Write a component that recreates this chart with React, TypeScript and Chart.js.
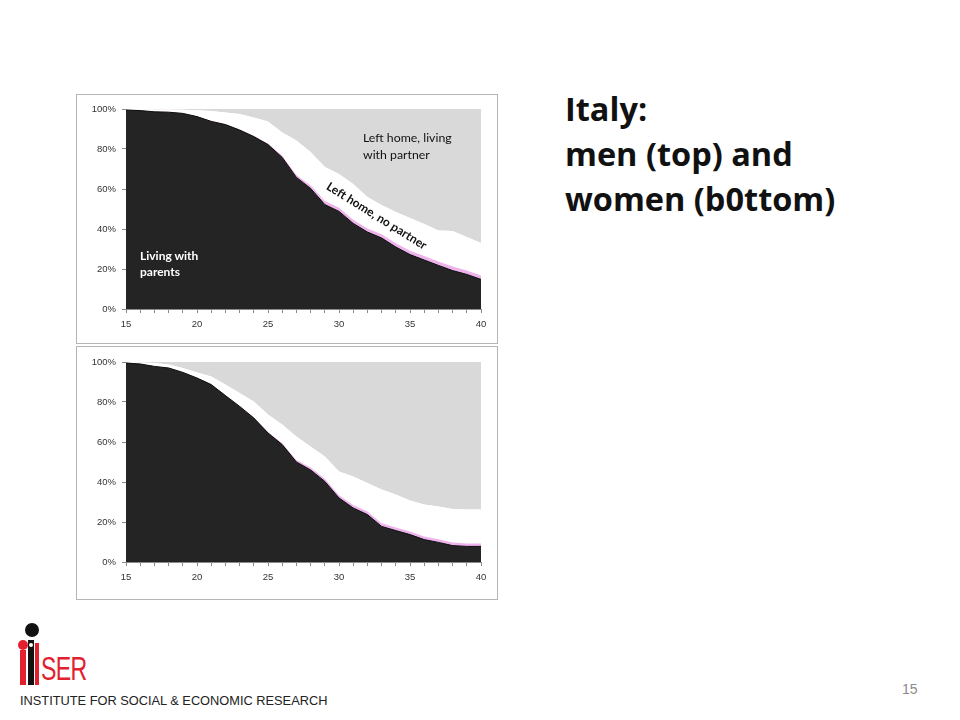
import React, { useEffect, useRef } from "react";
import { Chart, registerables } from "chart.js";

Chart.register(...registerables);

// Age (years)
const AGES = [15, 16, 17, 18, 19, 20, 21, 22, 23, 24, 25, 26, 27, 28, 29, 30, 31, 32, 33, 34, 35, 36, 37, 38, 39, 40];
const X_TICK_LABELS = ["15", "20", "25", "30", "35", "40"];
const Y_TICK_LABELS = ["0%", "20%", "40%", "60%", "80%", "100%"];

// Men (top) – shares in %, stacked
const MEN_PARENTS = [99.5, 99.2, 98.6, 98.4, 97.8, 96.2, 93.8, 92.2, 89.5, 86.2, 82.2, 75.8, 65.8, 60.3, 52.2, 48.8, 42.8, 38.5, 35.5, 31.0, 27.2, 24.5, 21.8, 19.2, 17.3, 14.8];
const MEN_OTHER = [0.2, 0.2, 0.2, 0.2, 0.2, 0.2, 0.3, 0.3, 0.3, 0.4, 0.5, 0.8, 1.2, 1.5, 1.8, 1.8, 1.8, 1.8, 1.9, 1.9, 1.9, 2.0, 2.0, 2.0, 2.0, 2.0];
const MEN_NO_PARTNER = [0.3, 0.5, 1.0, 1.1, 1.6, 3.0, 4.9, 5.8, 7.7, 9.2, 11.1, 11.7, 17.2, 16.7, 17.0, 16.9, 17.9, 15.7, 14.6, 15.6, 16.4, 16.0, 15.4, 17.8, 16.7, 16.2];
const MEN_PARTNER = [0.0, 0.1, 0.2, 0.3, 0.4, 0.6, 1.0, 1.7, 2.5, 4.2, 6.2, 11.7, 15.8, 21.5, 29.0, 32.5, 37.5, 44.0, 48.0, 51.5, 54.5, 57.5, 60.8, 61.0, 64.0, 67.0];

// Women (bottom) – shares in %, stacked
const WOMEN_PARENTS = [99.5, 99.0, 97.8, 97.0, 94.8, 92.0, 88.7, 83.2, 77.8, 72.0, 64.5, 58.7, 50.0, 46.0, 40.3, 32.0, 27.0, 23.7, 17.8, 15.7, 13.7, 11.2, 9.8, 8.2, 7.8, 7.8];
const WOMEN_OTHER = [0.2, 0.2, 0.2, 0.2, 0.2, 0.3, 0.3, 0.3, 0.3, 0.4, 0.5, 0.7, 1.0, 1.2, 1.3, 1.4, 1.5, 1.5, 1.6, 1.6, 1.6, 1.6, 1.6, 1.5, 1.5, 1.5];
const WOMEN_NO_PARTNER = [0.3, 0.6, 1.5, 1.5, 2.0, 2.5, 3.8, 5.2, 6.4, 7.9, 8.7, 9.3, 11.8, 10.6, 11.2, 11.9, 14.3, 14.3, 16.8, 16.4, 15.5, 15.9, 16.4, 16.8, 17.0, 17.0];
const WOMEN_PARTNER = [0.0, 0.2, 0.5, 1.3, 3.0, 5.2, 7.2, 11.3, 15.5, 19.7, 26.3, 31.3, 37.2, 42.2, 47.2, 54.7, 57.2, 60.5, 63.8, 66.3, 69.2, 71.3, 72.2, 73.5, 73.7, 73.7];

const SERIES_NAMES = ["Living with parents", "Left home, other", "Left home, no partner", "Left home, living with partner"];
const SERIES_COLORS = ["#242424", "#eeb3ec", "#ffffff", "#d9d9d9"];

const AXIS_COLOR = "#8a8a8a";
const TICK_FONT = { family: "'Liberation Sans', Arial, sans-serif", size: 9.5 };

function buildConfig(series: number[][], xAxisHeight: number, topPad: number): any {
  return {
    type: "line",
    data: {
      datasets: series.map((arr, i) => ({
        label: SERIES_NAMES[i],
        data: AGES.map((a, j) => ({ x: a, y: arr[j] })),
        fill: i === 0 ? "origin" : "-1",
        backgroundColor: SERIES_COLORS[i],
        borderColor: i === 0 ? "#0c0c0c" : "rgba(0,0,0,0)",
        borderWidth: i === 0 ? 1 : 0,
        pointRadius: 0,
        tension: 0,
      })),
    },
    options: {
      responsive: false,
      animation: false,
      events: [],
      layout: { padding: { left: 0, right: 16, top: topPad, bottom: 0 } },
      plugins: { legend: { display: false }, tooltip: { enabled: false }, title: { display: false } },
      scales: {
        x: {
          type: "linear",
          min: 15,
          max: 40,
          afterFit: (s: any) => { s.height = xAxisHeight; },
          ticks: {
            stepSize: 1,
            autoSkip: false,
            maxRotation: 0,
            padding: 6,
            color: "#333",
            font: TICK_FONT,
            callback: (v: number) => (X_TICK_LABELS.includes(String(v)) ? String(v) : ""),
          },
          grid: { drawOnChartArea: false, drawTicks: true, tickLength: 4, color: AXIS_COLOR },
          border: { color: AXIS_COLOR, width: 1 },
        },
        y: {
          stacked: true,
          min: 0,
          max: 100,
          afterFit: (s: any) => { s.width = 49; },
          ticks: {
            stepSize: 20,
            padding: 6,
            color: "#333",
            font: TICK_FONT,
            callback: (v: number) => Y_TICK_LABELS[Math.round(v / 20)],
          },
          grid: { drawOnChartArea: false, drawTicks: true, tickLength: 4, color: AXIS_COLOR },
          border: { color: AXIS_COLOR, width: 1 },
        },
      },
    },
  };
}

function AreaChart({ series, width, height, xAxisHeight, topPad }: { series: number[][]; width: number; height: number; xAxisHeight: number; topPad: number }) {
  const ref = useRef<HTMLCanvasElement | null>(null);
  useEffect(() => {
    if (!ref.current) return;
    const chart = new Chart(ref.current, buildConfig(series, xAxisHeight, topPad));
    return () => chart.destroy();
  }, []);
  return <canvas ref={ref} width={width} height={height} style={{ display: "block", width, height }} />;
}

const abs = (left: number, top: number, extra: React.CSSProperties = {}): React.CSSProperties => ({
  position: "absolute",
  left,
  top,
  ...extra,
});

export default function App() {
  const labelFont = "Lato, 'Open Sans', sans-serif";
  return (
    <div style={{ position: "fixed", left: 0, top: 0, width: 960, height: 720, background: "#fff", overflow: "hidden" }}>
      {/* Top chart: men */}
      <div style={abs(76, 94, { width: 420, height: 248, border: "1px solid #b5b5b5" })}>
        <AreaChart series={[MEN_PARENTS, MEN_OTHER, MEN_NO_PARTNER, MEN_PARTNER]} width={420} height={248} xAxisHeight={34} topPad={14} />
      </div>
      <div style={abs(140, 248, { color: "#fff", fontFamily: labelFont, fontWeight: 700, fontSize: 12, lineHeight: "16px" })}>
        Living with
        <br />
        parents
      </div>
      <div style={abs(363, 129, { color: "#111", fontFamily: labelFont, fontWeight: 400, fontSize: 12.3, lineHeight: "17px" })}>
        Left home, living
        <br />
        with partner
      </div>
      <div
        style={abs(314, 208, {
          color: "#111",
          fontFamily: labelFont,
          fontWeight: 700,
          fontSize: 12,
          whiteSpace: "nowrap",
          transform: "rotate(32deg)",
          transformOrigin: "center center",
          width: 126,
          textAlign: "center",
        })}
      >
        Left home, no partner
      </div>

      {/* Bottom chart: women */}
      <div style={abs(76, 346, { width: 420, height: 252, border: "1px solid #b5b5b5" })}>
        <AreaChart series={[WOMEN_PARENTS, WOMEN_OTHER, WOMEN_NO_PARTNER, WOMEN_PARTNER]} width={420} height={252} xAxisHeight={37} topPad={15} />
      </div>

      {/* Title */}
      <div style={abs(565, 86, { fontFamily: "'Open Sans', Lato, sans-serif", fontWeight: 700, fontSize: 32.5, lineHeight: "45px", color: "#111" })}>
        Italy:
        <br />
        men (top) and
        <br />
        women (b0ttom)
      </div>

      {/* Page number */}
      <div style={abs(902, 681, { fontFamily: "'Liberation Sans', Arial, sans-serif", fontSize: 14, color: "#8a8a8a" })}>15</div>

      {/* Logo */}
      <div style={abs(25, 623, { width: 14, height: 14, borderRadius: 7, background: "#111" })} />
      <div style={abs(18, 640, { width: 10, height: 10, borderRadius: 5, background: "#e3202e" })} />
      <div style={abs(20, 650, { width: 6, height: 35, background: "#e3202e" })} />
      <div style={abs(28, 640, { width: 6, height: 45, background: "#111" })} />
      <div style={abs(29, 643, { width: 4, height: 4, borderRadius: 2, background: "#fff" })} />
      <div style={abs(35, 643, { width: 4, height: 42, background: "#e3202e" })} />
      <div
        style={abs(41, 651, {
          fontFamily: "'Liberation Sans', Arial, sans-serif",
          fontSize: 34,
          lineHeight: "34px",
          color: "#e3202e",
          transform: "scaleX(0.68)",
          transformOrigin: "left top",
          letterSpacing: -1,
        })}
      >
        SER
      </div>
      <div style={abs(20, 693, { fontFamily: "'Liberation Sans', Arial, sans-serif", fontSize: 12.8, color: "#222", whiteSpace: "nowrap" })}>
        INSTITUTE FOR SOCIAL &amp; ECONOMIC RESEARCH
      </div>
    </div>
  );
}
